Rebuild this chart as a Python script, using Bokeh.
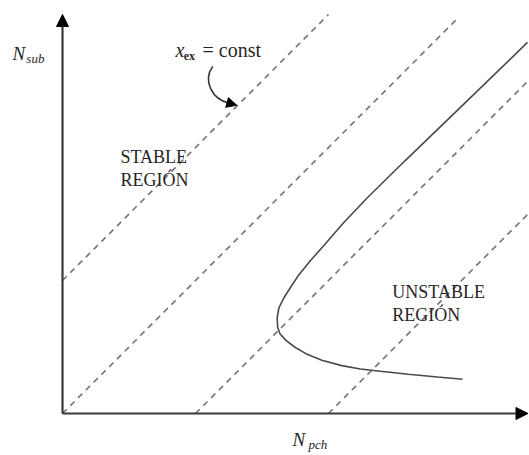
from bokeh.plotting import figure
from bokeh.models import Range1d, Arrow, NormalHead
from bokeh.core.properties import value
from bokeh.embed import file_html
from bokeh.resources import INLINE

# ---- data (in units of the diagram) ----
# dashed lines x_ex = const (start/end points)
dash_x0 = [0.0, 0.0, 1.0, 2.0]
dash_y0 = [1.0, 0.0, 0.0, 0.0]
dash_x1 = [2.0, 2.98, 3.5, 3.5]
dash_y1 = [3.0, 2.98, 2.5, 1.5]

# stability boundary curve
curve_x = [3.496, 2.99, 2.575, 2.29, 2.11, 1.98, 1.865, 1.775, 1.714, 1.665, 1.628,
           1.614, 1.618, 1.635, 1.68, 1.745, 1.83, 1.95, 2.10, 2.24, 2.39, 2.60, 2.82, 3.008]
curve_y = [2.79, 2.30, 1.90, 1.62, 1.43, 1.28, 1.15, 1.04, 0.947, 0.87, 0.797,
           0.72, 0.647, 0.60, 0.55, 0.50, 0.45, 0.40, 0.36, 0.335, 0.318, 0.295, 0.274, 0.258]

# axes extents
x_axis_end = 3.5
y_axis_end = 3.0

# text labels
region_x = [0.436, 0.436, 2.48, 2.48]
region_y = [1.925, 1.752, 0.91, 0.737]
region_text = ["STABLE", "REGIÓN", "UNSTABLE", "REGIÓN"]

main_x = [-0.376, 1.73]
main_y = [2.707, -0.195]
main_text = ["N", "N"]
sub_x = [-0.272, 1.85]
sub_y = [2.672, -0.23]
sub_text = ["sub", "pch"]

# annotation "x_ex = const"
ann_x = [0.85, 1.053]
ann_y = [2.73, 2.73]
ann_text = ["x", "= const"]
ann_sub_x = [0.912]
ann_sub_y = [2.685]
ann_sub_text = ["ex"]

# curved pointer (bezier)
ptr = dict(x0=[1.13], y0=[2.61], cx0=[1.05], cy0=[2.50],
           cx1=[1.13], cy1=[2.36], x1=[1.25], y1=[2.335])
ptr_tip = (1.31, 2.318)

FONT = value("Liberation Serif")
AX = "#3a3a3a"
TXT = "#262626"

p = figure(width=529, height=455,
           x_range=Range1d(-0.4662, 3.5113), y_range=Range1d(-0.3158, 3.1053),
           output_backend="svg", toolbar_location=None, min_border=0)
p.axis.visible = False
p.grid.visible = False
p.outline_line_color = None
p.background_fill_color = "white"

# dashed lines
p.segment(x0=dash_x0, y0=dash_y0, x1=dash_x1, y1=dash_y1,
          line_color="#7a7a7a", line_width=1.7, line_dash="6 5")

# curve
p.line(curve_x, curve_y, line_color="#4a4a4a", line_width=1.6)

# axes with arrowheads
p.add_layout(Arrow(end=NormalHead(size=12, fill_color="black", line_color="black"),
                   x_start=0, y_start=0, x_end=0, y_end=y_axis_end,
                   line_color=AX, line_width=2.2))
p.add_layout(Arrow(end=NormalHead(size=12, fill_color="black", line_color="black"),
                   x_start=0, y_start=0, x_end=x_axis_end, y_end=0,
                   line_color=AX, line_width=2.2))

# curved pointer
p.bezier(line_color="#333333", line_width=1.6, **ptr)
p.add_layout(Arrow(end=NormalHead(size=10, fill_color="black", line_color="black"),
                   x_start=ptr["x1"][0], y_start=ptr["y1"][0],
                   x_end=ptr_tip[0], y_end=ptr_tip[1],
                   line_color="#333333", line_width=1.6))

# texts
p.text(x=region_x, y=region_y, text=region_text, text_font=FONT,
       text_font_size="18px", text_baseline="middle", text_align="left",
       text_color=TXT)
p.text(x=main_x, y=main_y, text=main_text, text_font=FONT, text_font_style="italic",
       text_font_size="19px", text_baseline="middle", text_align="left",
       text_color=TXT)
p.text(x=sub_x, y=sub_y, text=sub_text, text_font=FONT, text_font_style="italic",
       text_font_size="13px", text_baseline="middle", text_align="left",
       text_color=TXT)
p.text(x=ann_x[:1], y=ann_y[:1], text=ann_text[:1], text_font=FONT, text_font_style="italic",
       text_font_size="20px", text_baseline="middle", text_align="left",
       text_color=TXT)
p.text(x=ann_x[1:], y=ann_y[1:], text=ann_text[1:], text_font=FONT,
       text_font_size="20px", text_baseline="middle", text_align="left",
       text_color=TXT)
p.text(x=ann_sub_x, y=ann_sub_y, text=ann_sub_text, text_font=FONT, text_font_style="bold",
       text_font_size="12px", text_baseline="middle", text_align="left",
       text_color=TXT)

open("out.html", "w").write(file_html(p, INLINE))
